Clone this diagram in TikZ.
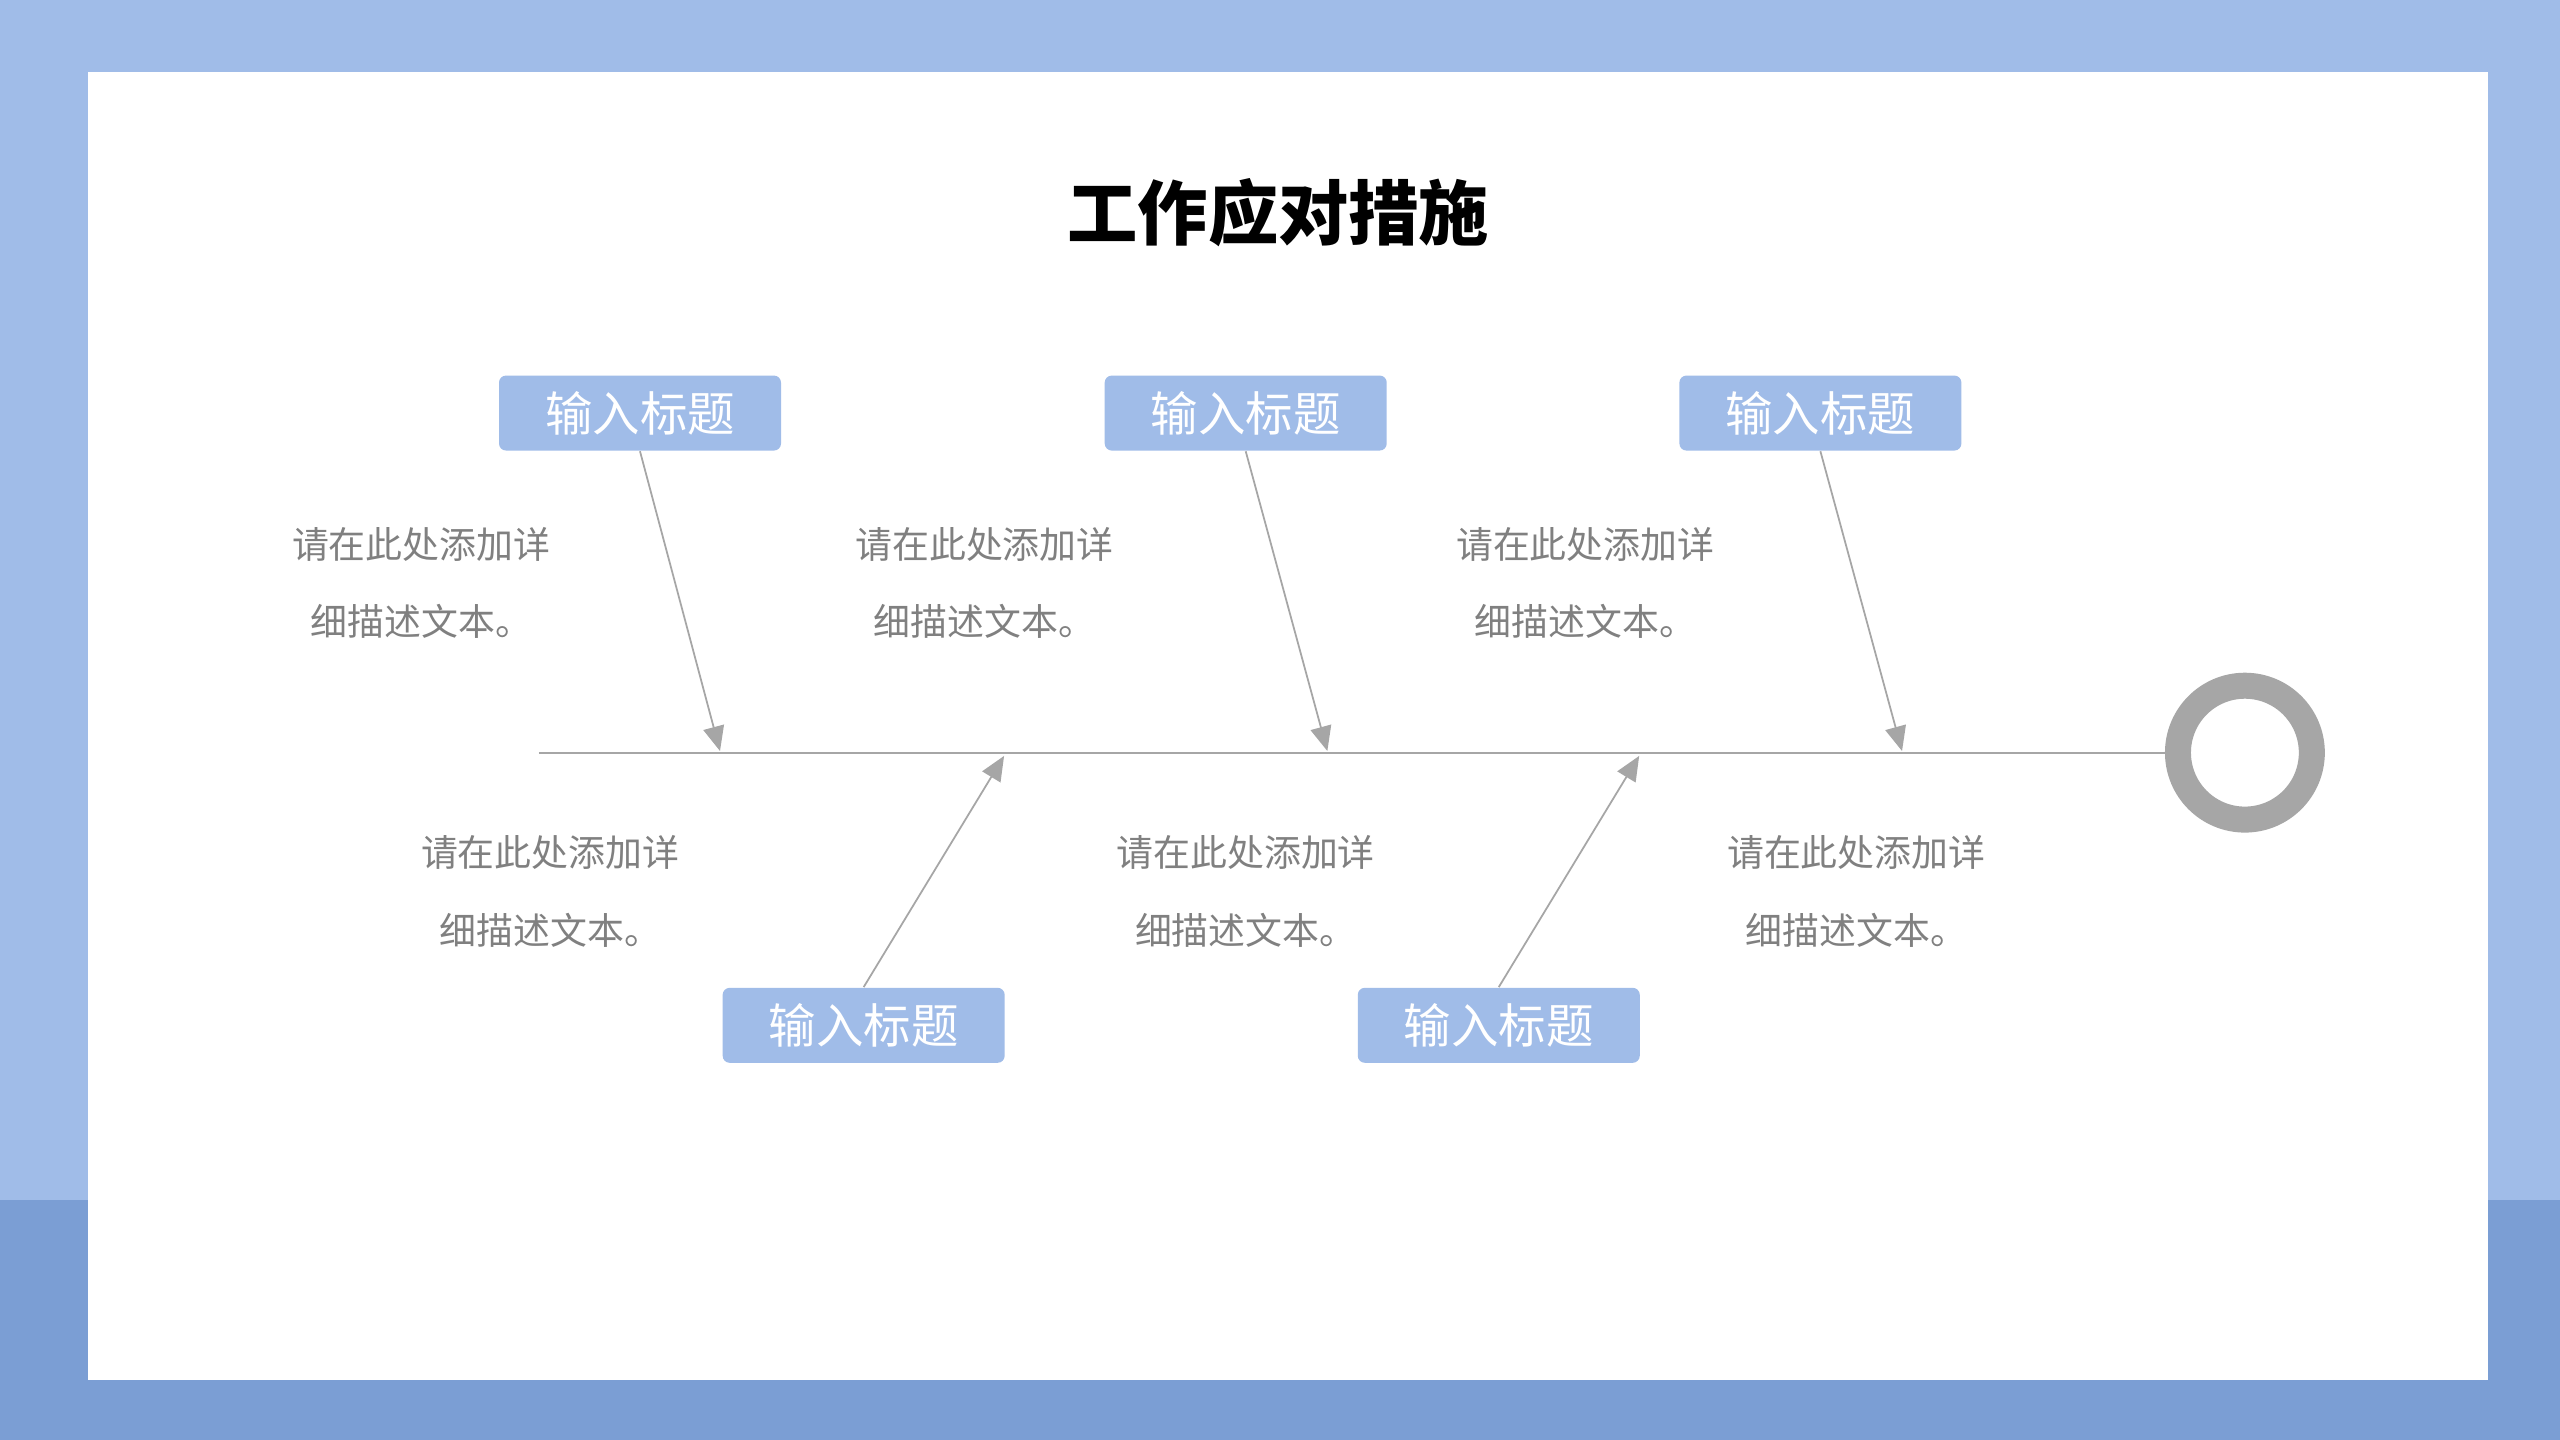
\documentclass[tikz,border=0pt]{standalone}
\usepackage{fontspec}
\setmainfont{Noto Sans CJK SC}
\usetikzlibrary{arrows.meta}
\definecolor{bandlight}{HTML}{A0BCE8}
\definecolor{banddark}{HTML}{7B9ED4}
\definecolor{linegray}{HTML}{A6A6A6}
\definecolor{textgray}{HTML}{808080}
\begin{document}
\begin{tikzpicture}[x=0.016327cm,y=-0.016327cm,
    tagbox/.style={fill=bandlight,rounded corners=2pt,minimum width=173\pgflinewidth*0+2.82cm,minimum height=0.75cm,
      text=white,font=\fontsize{13.5}{16}\selectfont},
    desc/.style={text=textgray,align=center,font=\fontsize{10.5}{22}\selectfont},
    bone/.style={linegray,line width=0.5pt,-{Triangle[length=7pt,width=6pt]}}]

    % background
    \fill[bandlight] (0,0) rectangle (1568,882);
    \fill[banddark] (0,735) rectangle (1568,882);
    \fill[white] (54,44) rectangle (1524,845);
    \useasboundingbox (0,0) rectangle (1568,882);

    \node[font=\fontsize{20}{24}\selectfont\bfseries] (title) at (783,130) {工作应对措施};

    % spine and head
    \coordinate (tail) at (330,461);
    \coordinate (head) at (1328,461);
    \draw[linegray,line width=0.6pt] (tail) -- (head);
    \draw[linegray,line width=0.26cm] (1375,461) circle (41);

    % top bones
    \node[tagbox] (t1) at (392,253) {输入标题};
    \node[tagbox] (t2) at (763,253) {输入标题};
    \node[tagbox] (t3) at (1115,253) {输入标题};
    \coordinate (s1) at (441,460);
    \coordinate (s2) at (813,460);
    \coordinate (s3) at (1165,460);
    \draw[bone] (t1.south) -- (s1);
    \draw[bone] (t2.south) -- (s2);
    \draw[bone] (t3.south) -- (s3);

    % bottom bones
    \node[tagbox] (b1) at (529,628) {输入标题};
    \node[tagbox] (b2) at (918,628) {输入标题};
    \coordinate (s4) at (615,463);
    \coordinate (s5) at (1004,463);
    \draw[bone] (b1.north) -- (s4);
    \draw[bone] (b2.north) -- (s5);

    % descriptions
    \node[desc] (d1) at (258,357) {请在此处添加详\\细描述文本。};
    \node[desc] (d2) at (603,357) {请在此处添加详\\细描述文本。};
    \node[desc] (d3) at (971,357) {请在此处添加详\\细描述文本。};
    \node[desc] (d4) at (337,546) {请在此处添加详\\细描述文本。};
    \node[desc] (d5) at (763,546) {请在此处添加详\\细描述文本。};
    \node[desc] (d6) at (1137,546) {请在此处添加详\\细描述文本。};
\end{tikzpicture}
\end{document}
